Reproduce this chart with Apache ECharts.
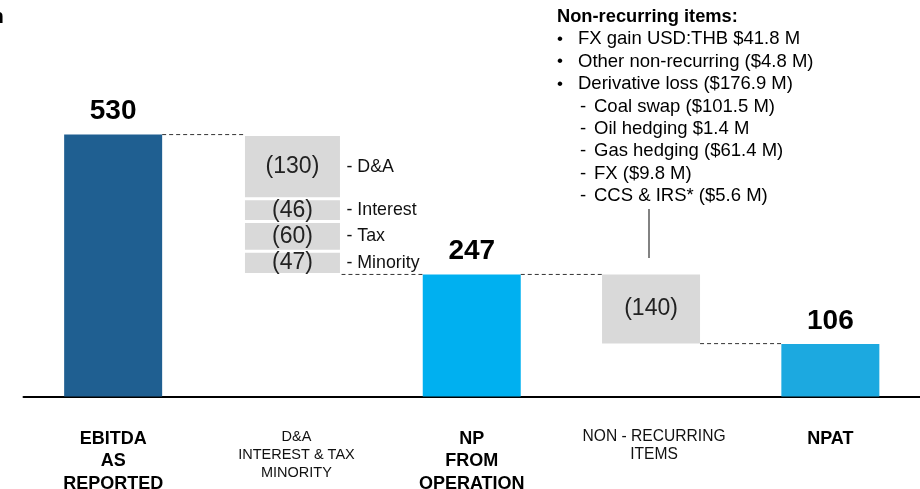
<!DOCTYPE html>
<html><head><meta charset="utf-8">
<script src="https://cdn.jsdelivr.net/npm/echarts@6/dist/echarts.min.js"></script>
<style>html,body{margin:0;padding:0;background:#fff}#c{width:920px;height:489px}</style>
</head><body><div id="c"></div>
<script>
// ---- data ----
const categories = ['EBITDA\nAS\nREPORTED', 'D&A\nINTEREST & TAX\nMINORITY', 'NP\nFROM\nOPERATION', 'NON - RECURRING\nITEMS', 'NPAT'];
const totalFlags = [true, false, true, false, true];
const totalValues = [530, null, 247, null, 106];
const deductionNames = ['D&A', 'Interest', 'Tax', 'Minority'];
const deductionValues = [130, 46, 60, 47];
const nonRecurringValue = 140;
const noteTitle = 'Non-recurring items:';
const noteBullets = ['FX gain USD:THB $41.8 M', 'Other non-recurring ($4.8 M)', 'Derivative loss ($176.9 M)'];
const noteSubItems = ['Coal swap ($101.5 M)', 'Oil hedging $1.4 M', 'Gas hedging ($61.4 M)', 'FX ($9.8 M)', 'CCS & IRS* ($5.6 M)'];
const cornerText = 'n';

// ---- styles ----
const FONT = "'Liberation Sans', Arial, sans-serif";
const BAR_W = 98;
const totalColors = ['#1F5F91', null, '#00B0F0', null, '#1CA9E0'];
const labelTags = ['b', 'm', 'b', 'r', 'b'];
const GREY = '#D9D9D9';

// derived running totals
const ebitda = totalValues[0];
const sumDeductions = deductionValues.reduce((a, b) => a + b, 0);
const afterDeductions = ebitda - sumDeductions;
const npOp = totalValues[2];
const afterNonRec = npOp - nonRecurringValue;

const blank = () => categories.map(() => '-');

const baseData = blank();
baseData[1] = afterDeductions;
baseData[3] = afterNonRec;

const totalData = totalValues.map((v, i) => totalFlags[i] ? { value: v, itemStyle: { color: totalColors[i] } } : '-');

const series = [];
series.push({
  name: 'base', type: 'bar', stack: 'wf', barWidth: BAR_W, silent: true,
  itemStyle: { color: 'transparent' }, data: baseData
});
series.push({
  name: 'total', type: 'bar', stack: 'wf', barWidth: BAR_W, data: totalData,
  label: { show: true, position: 'top', distance: 9, color: '#000', fontFamily: FONT, fontWeight: 'bold', fontSize: 28 }
});
// deductions stacked from bottom (last item) to top (first item)
for (let k = deductionNames.length - 1; k >= 0; k--) {
  const d = blank();
  d[1] = deductionValues[k];
  series.push({
    name: deductionNames[k], type: 'bar', stack: 'wf', barWidth: BAR_W, data: d,
    itemStyle: { color: GREY, borderColor: '#fff', borderWidth: 1.5 },
    label: {
      show: true, position: 'insideLeft', distance: 0,
      formatter: () => '{v|(' + deductionValues[k] + ')}{n|- ' + deductionNames[k] + '}',
      rich: {
        v: { width: BAR_W, align: 'center', fontSize: 23, fontFamily: FONT, color: '#222' },
        n: { fontSize: 17.8, fontFamily: FONT, color: '#111', padding: [0, 0, 0, 5] }
      }
    }
  });
}
const nr = blank();
nr[3] = nonRecurringValue;
series.push({
  name: 'nonrec', type: 'bar', stack: 'wf', barWidth: BAR_W, data: nr,
  itemStyle: { color: GREY },
  label: { show: true, position: 'inside', formatter: '(' + nonRecurringValue + ')', fontSize: 23, fontFamily: FONT, color: '#222' }
});
// dashed connectors: [fromIndex, toIndex, level]
const connectors = [[0, 1, ebitda], [1, 2, afterDeductions], [2, 3, npOp], [3, 4, afterNonRec]];
series.push({
  name: 'connectors', type: 'custom', coordinateSystem: 'cartesian2d', silent: true,
  encode: { x: [0, 1], y: 2 },
  data: connectors,
  renderItem: function (params, api) {
    const a = api.coord([api.value(0), api.value(2)]);
    const b = api.coord([api.value(1), api.value(2)]);
    const hw = BAR_W / 2;
    return {
      type: 'line',
      shape: { x1: a[0] + hw, y1: a[1], x2: b[0] - hw, y2: b[1] },
      style: { stroke: '#333', lineWidth: 1, lineDash: [4, 3] }
    };
  }
});

// annotation graphics
const graphic = [];
const NX = 557, STEP = 22.4, Y0 = 17;
const NFS = 18.5;
graphic.push({ type: 'text', x: -9, y: 17, style: { text: cornerText, fontSize: 21, fontWeight: 'bold', fontFamily: FONT, fill: '#000', verticalAlign: 'middle' } });
graphic.push({ type: 'text', x: NX, y: Y0, style: { text: noteTitle, fontSize: 18.3, fontWeight: 'bold', fontFamily: FONT, fill: '#000', verticalAlign: 'middle' } });
let row = 1;
noteBullets.forEach(t => {
  const y = Y0 + STEP * row++;
  graphic.push({ type: 'text', x: NX, y: y, style: { text: '•', fontSize: 17, fontFamily: FONT, fill: '#000', verticalAlign: 'middle' } });
  graphic.push({ type: 'text', x: NX + 21, y: y, style: { text: t, fontSize: NFS, fontFamily: FONT, fill: '#000', verticalAlign: 'middle' } });
});
noteSubItems.forEach(t => {
  const y = Y0 + STEP * row++;
  graphic.push({ type: 'text', x: NX + 23, y: y, style: { text: '-', fontSize: NFS, fontFamily: FONT, fill: '#000', verticalAlign: 'middle' } });
  graphic.push({ type: 'text', x: NX + 37, y: y, style: { text: t, fontSize: NFS, fontFamily: FONT, fill: '#000', verticalAlign: 'middle' } });
});
graphic.push({ type: 'line', shape: { x1: 649, y1: 209, x2: 649, y2: 258 }, style: { stroke: '#595959', lineWidth: 1.5 } });

const chart = echarts.init(document.getElementById('c'), null, { renderer: 'canvas' });
chart.setOption({
  animation: false,
  backgroundColor: '#fff',
  grid: { left: 23.5, right: 0, top: 100, bottom: 92.5, containLabel: false, outerBoundsMode: 'none' },
  xAxis: {
    type: 'category', data: categories,
    axisLine: { lineStyle: { color: '#000', width: 2 } },
    axisTick: { show: false },
    axisLabel: {
      interval: 0, margin: 31,
      formatter: function (value, idx) {
        const tag = labelTags[idx];
        return value.split('\n').map(s => '{' + tag + '|' + s + '}').join('\n');
      },
      rich: {
        b: { fontSize: 18, fontWeight: 'bold', fontFamily: FONT, color: '#000', lineHeight: 22.5, align: 'center' },
        m: { fontSize: 14.5, fontFamily: FONT, color: '#111', lineHeight: 18, align: 'center', padding: [0, 0, 0, 8] },
        r: { fontSize: 15.6, fontFamily: FONT, color: '#111', lineHeight: 18, align: 'center', padding: [0, 0, 0, 6] }
      }
    }
  },
  yAxis: { type: 'value', min: 0, max: 600, show: false },
  series: series,
  graphic: graphic
});
</script></body></html>
